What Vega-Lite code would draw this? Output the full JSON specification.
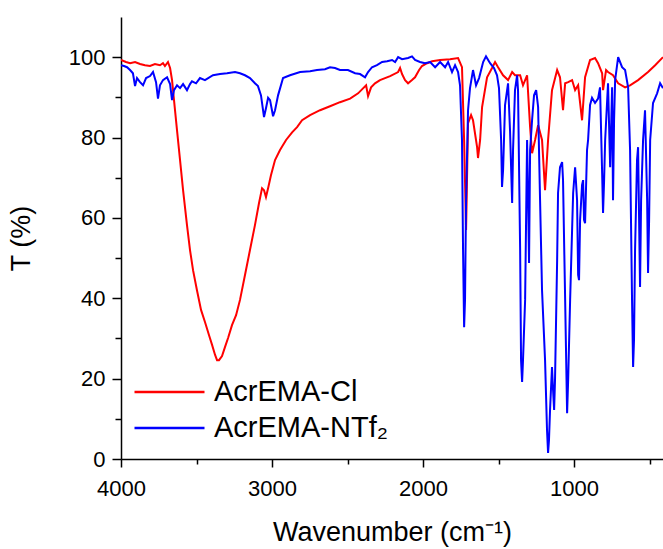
{
  "$schema": "https://vega.github.io/schema/vega-lite/v6.json",
  "autosize": {"type": "none"},
  "padding": {"left": 121, "top": 17, "right": 0, "bottom": 90},
  "width": 542,
  "height": 442,
  "background": "white",
  "config": {
    "view": {"stroke": null},
    "font": "Liberation Sans",
    "axis": {
      "domainColor": "black", "domainWidth": 1.5, "tickColor": "black", "tickWidth": 1.5,
      "labelColor": "black", "labelFont": "Liberation Sans", "labelFontSize": 22,
      "titleColor": "black", "titleFont": "Liberation Sans", "titleFontSize": 26, "titleFontWeight": "normal",
      "grid": false
    },
    "legend": {"labelFont": "Liberation Sans"}
  },
  "datasets": {
    "cl": [
      {"series":"AcrEMA-Cl","wn":4000,"t":99.3},{"series":"AcrEMA-Cl","wn":3967,"t":98.8},{"series":"AcrEMA-Cl","wn":3940,"t":98.5},{"series":"AcrEMA-Cl","wn":3907,"t":98.8},{"series":"AcrEMA-Cl","wn":3874,"t":98.3},{"series":"AcrEMA-Cl","wn":3841,"t":98.0},{"series":"AcrEMA-Cl","wn":3808,"t":97.8},{"series":"AcrEMA-Cl","wn":3775,"t":98.3},{"series":"AcrEMA-Cl","wn":3742,"t":98.0},{"series":"AcrEMA-Cl","wn":3722,"t":98.5},{"series":"AcrEMA-Cl","wn":3709,"t":97.8},{"series":"AcrEMA-Cl","wn":3689,"t":98.8},{"series":"AcrEMA-Cl","wn":3675,"t":97.3},{"series":"AcrEMA-Cl","wn":3662,"t":94.3},{"series":"AcrEMA-Cl","wn":3649,"t":89.3},{"series":"AcrEMA-Cl","wn":3629,"t":81.8},{"series":"AcrEMA-Cl","wn":3609,"t":74.4},{"series":"AcrEMA-Cl","wn":3589,"t":66.9},{"series":"AcrEMA-Cl","wn":3563,"t":58.2},{"series":"AcrEMA-Cl","wn":3543,"t":52.0},{"series":"AcrEMA-Cl","wn":3523,"t":47.0},{"series":"AcrEMA-Cl","wn":3497,"t":42.0},{"series":"AcrEMA-Cl","wn":3470,"t":37.1},{"series":"AcrEMA-Cl","wn":3444,"t":34.1},{"series":"AcrEMA-Cl","wn":3417,"t":30.8},{"series":"AcrEMA-Cl","wn":3397,"t":28.4},{"series":"AcrEMA-Cl","wn":3377,"t":25.9},{"series":"AcrEMA-Cl","wn":3364,"t":24.6},{"series":"AcrEMA-Cl","wn":3351,"t":24.6},{"series":"AcrEMA-Cl","wn":3331,"t":25.6},{"series":"AcrEMA-Cl","wn":3311,"t":27.9},{"series":"AcrEMA-Cl","wn":3291,"t":30.1},{"series":"AcrEMA-Cl","wn":3265,"t":33.3},{"series":"AcrEMA-Cl","wn":3238,"t":35.8},{"series":"AcrEMA-Cl","wn":3212,"t":39.6},{"series":"AcrEMA-Cl","wn":3179,"t":45.8},{"series":"AcrEMA-Cl","wn":3146,"t":52.0},{"series":"AcrEMA-Cl","wn":3113,"t":58.2},{"series":"AcrEMA-Cl","wn":3086,"t":63.7},{"series":"AcrEMA-Cl","wn":3066,"t":67.4},{"series":"AcrEMA-Cl","wn":3053,"t":66.9},{"series":"AcrEMA-Cl","wn":3040,"t":65.2},{"series":"AcrEMA-Cl","wn":3026,"t":67.4},{"series":"AcrEMA-Cl","wn":3007,"t":70.6},{"series":"AcrEMA-Cl","wn":2980,"t":74.4},{"series":"AcrEMA-Cl","wn":2947,"t":76.9},{"series":"AcrEMA-Cl","wn":2907,"t":79.4},{"series":"AcrEMA-Cl","wn":2867,"t":81.3},{"series":"AcrEMA-Cl","wn":2834,"t":82.6},{"series":"AcrEMA-Cl","wn":2801,"t":84.3},{"series":"AcrEMA-Cl","wn":2748,"t":85.6},{"series":"AcrEMA-Cl","wn":2682,"t":86.8},{"series":"AcrEMA-Cl","wn":2616,"t":87.8},{"series":"AcrEMA-Cl","wn":2550,"t":88.8},{"series":"AcrEMA-Cl","wn":2483,"t":89.7},{"series":"AcrEMA-Cl","wn":2430,"t":91.0},{"series":"AcrEMA-Cl","wn":2404,"t":92.0},{"series":"AcrEMA-Cl","wn":2377,"t":93.0},{"series":"AcrEMA-Cl","wn":2364,"t":90.3},{"series":"AcrEMA-Cl","wn":2344,"t":92.5},{"series":"AcrEMA-Cl","wn":2318,"t":93.5},{"series":"AcrEMA-Cl","wn":2285,"t":94.3},{"series":"AcrEMA-Cl","wn":2218,"t":95.3},{"series":"AcrEMA-Cl","wn":2165,"t":96.3},{"series":"AcrEMA-Cl","wn":2152,"t":97.3},{"series":"AcrEMA-Cl","wn":2139,"t":95.8},{"series":"AcrEMA-Cl","wn":2119,"t":94.3},{"series":"AcrEMA-Cl","wn":2099,"t":93.5},{"series":"AcrEMA-Cl","wn":2073,"t":94.3},{"series":"AcrEMA-Cl","wn":2053,"t":95.0},{"series":"AcrEMA-Cl","wn":2026,"t":96.8},{"series":"AcrEMA-Cl","wn":2007,"t":97.8},{"series":"AcrEMA-Cl","wn":1973,"t":98.5},{"series":"AcrEMA-Cl","wn":1940,"t":99.0},{"series":"AcrEMA-Cl","wn":1887,"t":99.3},{"series":"AcrEMA-Cl","wn":1821,"t":99.5},{"series":"AcrEMA-Cl","wn":1768,"t":99.8},{"series":"AcrEMA-Cl","wn":1742,"t":97.5},{"series":"AcrEMA-Cl","wn":1728,"t":79.4},{"series":"AcrEMA-Cl","wn":1715,"t":57.0},{"series":"AcrEMA-Cl","wn":1702,"t":83.6},{"series":"AcrEMA-Cl","wn":1682,"t":85.6},{"series":"AcrEMA-Cl","wn":1669,"t":84.3},{"series":"AcrEMA-Cl","wn":1642,"t":77.6},{"series":"AcrEMA-Cl","wn":1636,"t":74.9},{"series":"AcrEMA-Cl","wn":1622,"t":79.4},{"series":"AcrEMA-Cl","wn":1609,"t":87.6},{"series":"AcrEMA-Cl","wn":1576,"t":95.0},{"series":"AcrEMA-Cl","wn":1543,"t":97.3},{"series":"AcrEMA-Cl","wn":1523,"t":98.8},{"series":"AcrEMA-Cl","wn":1503,"t":97.5},{"series":"AcrEMA-Cl","wn":1470,"t":95.5},{"series":"AcrEMA-Cl","wn":1437,"t":94.3},{"series":"AcrEMA-Cl","wn":1410,"t":96.3},{"series":"AcrEMA-Cl","wn":1391,"t":95.5},{"series":"AcrEMA-Cl","wn":1357,"t":95.5},{"series":"AcrEMA-Cl","wn":1338,"t":93.0},{"series":"AcrEMA-Cl","wn":1311,"t":95.5},{"series":"AcrEMA-Cl","wn":1291,"t":82.6},{"series":"AcrEMA-Cl","wn":1278,"t":76.1},{"series":"AcrEMA-Cl","wn":1258,"t":79.4},{"series":"AcrEMA-Cl","wn":1238,"t":83.1},{"series":"AcrEMA-Cl","wn":1212,"t":79.4},{"series":"AcrEMA-Cl","wn":1192,"t":66.9},{"series":"AcrEMA-Cl","wn":1172,"t":79.4},{"series":"AcrEMA-Cl","wn":1146,"t":91.8},{"series":"AcrEMA-Cl","wn":1112,"t":96.8},{"series":"AcrEMA-Cl","wn":1093,"t":95.0},{"series":"AcrEMA-Cl","wn":1073,"t":86.8},{"series":"AcrEMA-Cl","wn":1059,"t":93.5},{"series":"AcrEMA-Cl","wn":1039,"t":93.8},{"series":"AcrEMA-Cl","wn":1013,"t":94.3},{"series":"AcrEMA-Cl","wn":993,"t":91.8},{"series":"AcrEMA-Cl","wn":973,"t":93.0},{"series":"AcrEMA-Cl","wn":947,"t":84.3},{"series":"AcrEMA-Cl","wn":927,"t":95.0},{"series":"AcrEMA-Cl","wn":894,"t":99.3},{"series":"AcrEMA-Cl","wn":861,"t":99.8},{"series":"AcrEMA-Cl","wn":841,"t":98.5},{"series":"AcrEMA-Cl","wn":814,"t":96.0},{"series":"AcrEMA-Cl","wn":808,"t":91.8},{"series":"AcrEMA-Cl","wn":788,"t":96.8},{"series":"AcrEMA-Cl","wn":775,"t":96.3},{"series":"AcrEMA-Cl","wn":742,"t":95.5},{"series":"AcrEMA-Cl","wn":708,"t":93.5},{"series":"AcrEMA-Cl","wn":662,"t":92.5},{"series":"AcrEMA-Cl","wn":629,"t":93.0},{"series":"AcrEMA-Cl","wn":576,"t":94.3},{"series":"AcrEMA-Cl","wn":510,"t":96.3},{"series":"AcrEMA-Cl","wn":463,"t":98.0},{"series":"AcrEMA-Cl","wn":411,"t":100.0}
    ],
    "ntf2": [
      {"series":"AcrEMA-NTf₂","wn":4000,"t":98.0},{"series":"AcrEMA-NTf₂","wn":3980,"t":97.8},{"series":"AcrEMA-NTf₂","wn":3960,"t":97.5},{"series":"AcrEMA-NTf₂","wn":3940,"t":96.8},{"series":"AcrEMA-NTf₂","wn":3921,"t":96.0},{"series":"AcrEMA-NTf₂","wn":3907,"t":92.8},{"series":"AcrEMA-NTf₂","wn":3894,"t":94.8},{"series":"AcrEMA-NTf₂","wn":3874,"t":93.8},{"series":"AcrEMA-NTf₂","wn":3854,"t":93.0},{"series":"AcrEMA-NTf₂","wn":3834,"t":94.8},{"series":"AcrEMA-NTf₂","wn":3808,"t":95.3},{"series":"AcrEMA-NTf₂","wn":3788,"t":96.3},{"series":"AcrEMA-NTf₂","wn":3768,"t":93.8},{"series":"AcrEMA-NTf₂","wn":3755,"t":89.7},{"series":"AcrEMA-NTf₂","wn":3742,"t":93.0},{"series":"AcrEMA-NTf₂","wn":3722,"t":94.3},{"series":"AcrEMA-NTf₂","wn":3695,"t":95.0},{"series":"AcrEMA-NTf₂","wn":3675,"t":93.3},{"series":"AcrEMA-NTf₂","wn":3662,"t":89.3},{"series":"AcrEMA-NTf₂","wn":3649,"t":91.8},{"series":"AcrEMA-NTf₂","wn":3629,"t":93.0},{"series":"AcrEMA-NTf₂","wn":3609,"t":92.3},{"series":"AcrEMA-NTf₂","wn":3589,"t":93.3},{"series":"AcrEMA-NTf₂","wn":3563,"t":91.8},{"series":"AcrEMA-NTf₂","wn":3543,"t":93.3},{"series":"AcrEMA-NTf₂","wn":3530,"t":94.0},{"series":"AcrEMA-NTf₂","wn":3503,"t":93.5},{"series":"AcrEMA-NTf₂","wn":3477,"t":94.8},{"series":"AcrEMA-NTf₂","wn":3444,"t":94.3},{"series":"AcrEMA-NTf₂","wn":3391,"t":95.5},{"series":"AcrEMA-NTf₂","wn":3344,"t":95.8},{"series":"AcrEMA-NTf₂","wn":3298,"t":96.0},{"series":"AcrEMA-NTf₂","wn":3245,"t":96.3},{"series":"AcrEMA-NTf₂","wn":3212,"t":96.0},{"series":"AcrEMA-NTf₂","wn":3179,"t":95.5},{"series":"AcrEMA-NTf₂","wn":3146,"t":94.8},{"series":"AcrEMA-NTf₂","wn":3113,"t":93.5},{"series":"AcrEMA-NTf₂","wn":3093,"t":92.8},{"series":"AcrEMA-NTf₂","wn":3073,"t":90.5},{"series":"AcrEMA-NTf₂","wn":3053,"t":85.1},{"series":"AcrEMA-NTf₂","wn":3040,"t":87.3},{"series":"AcrEMA-NTf₂","wn":3026,"t":89.9},{"series":"AcrEMA-NTf₂","wn":3013,"t":89.3},{"series":"AcrEMA-NTf₂","wn":2993,"t":85.3},{"series":"AcrEMA-NTf₂","wn":2980,"t":86.8},{"series":"AcrEMA-NTf₂","wn":2960,"t":90.5},{"series":"AcrEMA-NTf₂","wn":2927,"t":94.8},{"series":"AcrEMA-NTf₂","wn":2881,"t":95.5},{"series":"AcrEMA-NTf₂","wn":2814,"t":96.3},{"series":"AcrEMA-NTf₂","wn":2748,"t":96.5},{"series":"AcrEMA-NTf₂","wn":2702,"t":96.8},{"series":"AcrEMA-NTf₂","wn":2649,"t":97.0},{"series":"AcrEMA-NTf₂","wn":2616,"t":97.5},{"series":"AcrEMA-NTf₂","wn":2583,"t":97.3},{"series":"AcrEMA-NTf₂","wn":2550,"t":96.8},{"series":"AcrEMA-NTf₂","wn":2497,"t":96.8},{"series":"AcrEMA-NTf₂","wn":2450,"t":96.0},{"series":"AcrEMA-NTf₂","wn":2417,"t":95.8},{"series":"AcrEMA-NTf₂","wn":2384,"t":95.0},{"series":"AcrEMA-NTf₂","wn":2364,"t":96.3},{"series":"AcrEMA-NTf₂","wn":2338,"t":97.5},{"series":"AcrEMA-NTf₂","wn":2305,"t":98.0},{"series":"AcrEMA-NTf₂","wn":2271,"t":98.8},{"series":"AcrEMA-NTf₂","wn":2238,"t":99.0},{"series":"AcrEMA-NTf₂","wn":2205,"t":99.3},{"series":"AcrEMA-NTf₂","wn":2185,"t":98.8},{"series":"AcrEMA-NTf₂","wn":2165,"t":100.0},{"series":"AcrEMA-NTf₂","wn":2139,"t":99.5},{"series":"AcrEMA-NTf₂","wn":2099,"t":99.8},{"series":"AcrEMA-NTf₂","wn":2073,"t":100.2},{"series":"AcrEMA-NTf₂","wn":2053,"t":99.3},{"series":"AcrEMA-NTf₂","wn":2020,"t":98.8},{"series":"AcrEMA-NTf₂","wn":1987,"t":98.5},{"series":"AcrEMA-NTf₂","wn":1953,"t":98.8},{"series":"AcrEMA-NTf₂","wn":1920,"t":97.5},{"series":"AcrEMA-NTf₂","wn":1887,"t":98.8},{"series":"AcrEMA-NTf₂","wn":1854,"t":97.5},{"series":"AcrEMA-NTf₂","wn":1834,"t":98.8},{"series":"AcrEMA-NTf₂","wn":1808,"t":96.3},{"series":"AcrEMA-NTf₂","wn":1788,"t":98.0},{"series":"AcrEMA-NTf₂","wn":1768,"t":96.3},{"series":"AcrEMA-NTf₂","wn":1755,"t":93.0},{"series":"AcrEMA-NTf₂","wn":1742,"t":79.4},{"series":"AcrEMA-NTf₂","wn":1735,"t":52.0},{"series":"AcrEMA-NTf₂","wn":1728,"t":32.8},{"series":"AcrEMA-NTf₂","wn":1722,"t":39.6},{"series":"AcrEMA-NTf₂","wn":1715,"t":64.4},{"series":"AcrEMA-NTf₂","wn":1702,"t":86.8},{"series":"AcrEMA-NTf₂","wn":1689,"t":92.3},{"series":"AcrEMA-NTf₂","wn":1669,"t":96.8},{"series":"AcrEMA-NTf₂","wn":1649,"t":93.0},{"series":"AcrEMA-NTf₂","wn":1629,"t":94.8},{"series":"AcrEMA-NTf₂","wn":1602,"t":98.8},{"series":"AcrEMA-NTf₂","wn":1583,"t":100.2},{"series":"AcrEMA-NTf₂","wn":1556,"t":98.5},{"series":"AcrEMA-NTf₂","wn":1530,"t":97.3},{"series":"AcrEMA-NTf₂","wn":1510,"t":95.5},{"series":"AcrEMA-NTf₂","wn":1497,"t":92.3},{"series":"AcrEMA-NTf₂","wn":1483,"t":79.4},{"series":"AcrEMA-NTf₂","wn":1477,"t":67.7},{"series":"AcrEMA-NTf₂","wn":1470,"t":71.9},{"series":"AcrEMA-NTf₂","wn":1457,"t":88.1},{"series":"AcrEMA-NTf₂","wn":1437,"t":93.5},{"series":"AcrEMA-NTf₂","wn":1424,"t":81.8},{"series":"AcrEMA-NTf₂","wn":1410,"t":63.7},{"series":"AcrEMA-NTf₂","wn":1404,"t":76.9},{"series":"AcrEMA-NTf₂","wn":1391,"t":91.8},{"series":"AcrEMA-NTf₂","wn":1377,"t":95.5},{"series":"AcrEMA-NTf₂","wn":1371,"t":91.8},{"series":"AcrEMA-NTf₂","wn":1357,"t":52.0},{"series":"AcrEMA-NTf₂","wn":1351,"t":24.6},{"series":"AcrEMA-NTf₂","wn":1344,"t":19.2},{"series":"AcrEMA-NTf₂","wn":1338,"t":24.6},{"series":"AcrEMA-NTf₂","wn":1324,"t":39.6},{"series":"AcrEMA-NTf₂","wn":1311,"t":79.4},{"series":"AcrEMA-NTf₂","wn":1304,"t":64.4},{"series":"AcrEMA-NTf₂","wn":1298,"t":48.8},{"series":"AcrEMA-NTf₂","wn":1291,"t":76.9},{"series":"AcrEMA-NTf₂","wn":1278,"t":84.3},{"series":"AcrEMA-NTf₂","wn":1265,"t":90.5},{"series":"AcrEMA-NTf₂","wn":1251,"t":91.8},{"series":"AcrEMA-NTf₂","wn":1238,"t":87.6},{"series":"AcrEMA-NTf₂","wn":1225,"t":64.4},{"series":"AcrEMA-NTf₂","wn":1212,"t":42.0},{"series":"AcrEMA-NTf₂","wn":1192,"t":24.6},{"series":"AcrEMA-NTf₂","wn":1179,"t":7.2},{"series":"AcrEMA-NTf₂","wn":1172,"t":1.5},{"series":"AcrEMA-NTf₂","wn":1166,"t":4.7},{"series":"AcrEMA-NTf₂","wn":1159,"t":12.2},{"series":"AcrEMA-NTf₂","wn":1146,"t":22.9},{"series":"AcrEMA-NTf₂","wn":1139,"t":17.2},{"series":"AcrEMA-NTf₂","wn":1132,"t":12.2},{"series":"AcrEMA-NTf₂","wn":1126,"t":19.7},{"series":"AcrEMA-NTf₂","wn":1112,"t":49.5},{"series":"AcrEMA-NTf₂","wn":1106,"t":66.2},{"series":"AcrEMA-NTf₂","wn":1093,"t":72.6},{"series":"AcrEMA-NTf₂","wn":1079,"t":73.9},{"series":"AcrEMA-NTf₂","wn":1073,"t":69.4},{"series":"AcrEMA-NTf₂","wn":1059,"t":39.6},{"series":"AcrEMA-NTf₂","wn":1046,"t":11.4},{"series":"AcrEMA-NTf₂","wn":1039,"t":19.7},{"series":"AcrEMA-NTf₂","wn":1026,"t":39.6},{"series":"AcrEMA-NTf₂","wn":1013,"t":57.0},{"series":"AcrEMA-NTf₂","wn":1006,"t":66.2},{"series":"AcrEMA-NTf₂","wn":993,"t":72.6},{"series":"AcrEMA-NTf₂","wn":980,"t":64.4},{"series":"AcrEMA-NTf₂","wn":973,"t":45.8},{"series":"AcrEMA-NTf₂","wn":967,"t":44.5},{"series":"AcrEMA-NTf₂","wn":960,"t":59.5},{"series":"AcrEMA-NTf₂","wn":947,"t":68.2},{"series":"AcrEMA-NTf₂","wn":940,"t":69.4},{"series":"AcrEMA-NTf₂","wn":934,"t":59.5},{"series":"AcrEMA-NTf₂","wn":927,"t":58.7},{"series":"AcrEMA-NTf₂","wn":914,"t":76.9},{"series":"AcrEMA-NTf₂","wn":907,"t":79.4},{"series":"AcrEMA-NTf₂","wn":894,"t":88.1},{"series":"AcrEMA-NTf₂","wn":881,"t":89.9},{"series":"AcrEMA-NTf₂","wn":861,"t":88.6},{"series":"AcrEMA-NTf₂","wn":841,"t":89.7},{"series":"AcrEMA-NTf₂","wn":828,"t":92.5},{"series":"AcrEMA-NTf₂","wn":814,"t":71.1},{"series":"AcrEMA-NTf₂","wn":808,"t":61.2},{"series":"AcrEMA-NTf₂","wn":801,"t":69.4},{"series":"AcrEMA-NTf₂","wn":794,"t":79.4},{"series":"AcrEMA-NTf₂","wn":775,"t":93.5},{"series":"AcrEMA-NTf₂","wn":761,"t":72.6},{"series":"AcrEMA-NTf₂","wn":748,"t":92.5},{"series":"AcrEMA-NTf₂","wn":742,"t":64.4},{"series":"AcrEMA-NTf₂","wn":735,"t":84.3},{"series":"AcrEMA-NTf₂","wn":728,"t":94.3},{"series":"AcrEMA-NTf₂","wn":708,"t":100.0},{"series":"AcrEMA-NTf₂","wn":682,"t":97.5},{"series":"AcrEMA-NTf₂","wn":662,"t":96.8},{"series":"AcrEMA-NTf₂","wn":642,"t":92.5},{"series":"AcrEMA-NTf₂","wn":629,"t":76.9},{"series":"AcrEMA-NTf₂","wn":616,"t":39.6},{"series":"AcrEMA-NTf₂","wn":609,"t":22.9},{"series":"AcrEMA-NTf₂","wn":603,"t":29.6},{"series":"AcrEMA-NTf₂","wn":596,"t":52.0},{"series":"AcrEMA-NTf₂","wn":583,"t":74.4},{"series":"AcrEMA-NTf₂","wn":576,"t":77.6},{"series":"AcrEMA-NTf₂","wn":563,"t":42.8},{"series":"AcrEMA-NTf₂","wn":556,"t":64.4},{"series":"AcrEMA-NTf₂","wn":543,"t":79.4},{"series":"AcrEMA-NTf₂","wn":530,"t":86.8},{"series":"AcrEMA-NTf₂","wn":516,"t":64.4},{"series":"AcrEMA-NTf₂","wn":510,"t":46.3},{"series":"AcrEMA-NTf₂","wn":503,"t":59.5},{"series":"AcrEMA-NTf₂","wn":496,"t":79.4},{"series":"AcrEMA-NTf₂","wn":477,"t":88.6},{"series":"AcrEMA-NTf₂","wn":450,"t":91.0},{"series":"AcrEMA-NTf₂","wn":430,"t":93.5},{"series":"AcrEMA-NTf₂","wn":411,"t":92.3}
    ]
  },
  "layer": [
    {
      "data": {"name": "cl"},
      "mark": {"type": "line", "strokeWidth": 2, "clip": true},
      "encoding": {
        "x": {"field": "wn", "type": "quantitative",
          "scale": {"domain": [411, 4000], "reverse": true, "nice": false, "zero": false},
          "axis": {"orient": "bottom", "values": [4000, 3000, 2000, 1000], "format": "d", "tickSize": 8, "labelPadding": 11, "title": "Wavenumber (cm⁻¹)", "titlePadding": 20, "titleFontSize": 27, "labelFlush": false}},
        "y": {"field": "t", "type": "quantitative",
          "scale": {"domain": [0, 110], "nice": false, "zero": false},
          "axis": {"orient": "left", "values": [0, 20, 40, 60, 80, 100], "format": "d", "tickSize": 9, "labelPadding": 7, "title": "T (%)", "titlePadding": 33, "titleFontSize": 27, "labelFlush": false}},
        "color": {"field": "series", "type": "nominal",
          "scale": {"domain": ["AcrEMA-Cl", "AcrEMA-NTf₂"], "range": ["#ff0000", "#0000ff"]},
          "legend": {"title": null, "orient": "none", "legendX": 29.5, "legendY": 356, "symbolType": "M-2,0H2", "symbolSize": 1225, "symbolStrokeWidth": 2.5, "labelFontSize": 29, "labelColor": "black", "labelOffset": 25.5, "rowPadding": 2, "labelLimit": 400}}
      }
    },
    {
      "data": {"name": "ntf2"},
      "mark": {"type": "line", "strokeWidth": 2, "clip": true},
      "encoding": {
        "x": {"field": "wn", "type": "quantitative",
          "axis": {"orient": "bottom", "values": [3500, 2500, 1500, 500], "tickSize": 5, "labels": false, "domain": false, "title": null}},
        "y": {"field": "t", "type": "quantitative",
          "axis": {"orient": "left", "values": [10, 30, 50, 70, 90], "tickSize": 6, "labels": false, "domain": false, "title": null}},
        "color": {"field": "series", "type": "nominal"}
      }
    },
    {
      "mark": {"type": "rule", "color": "black", "strokeWidth": 1.5},
      "encoding": {
        "y": {"datum": 110, "axis": null}
      }
    }
  ],
  "resolve": {"axis": {"x": "independent", "y": "independent"}}
}
